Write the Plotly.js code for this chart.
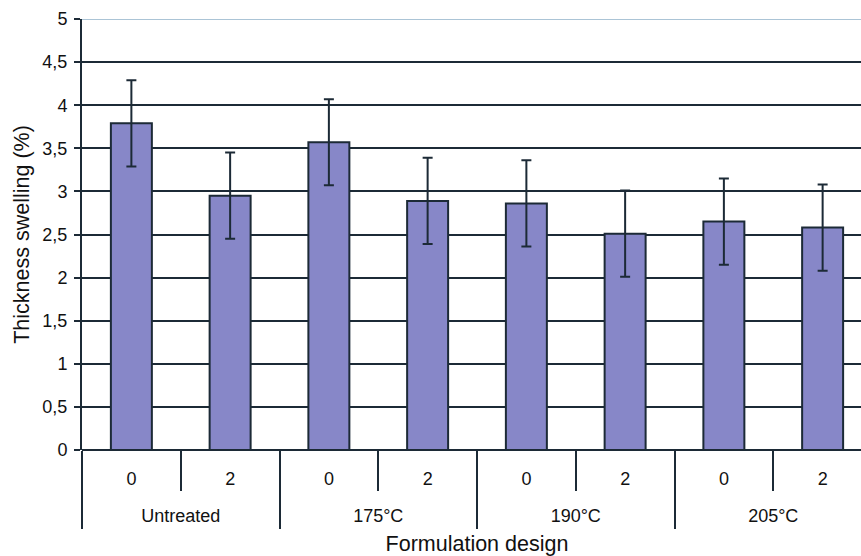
<!DOCTYPE html>
<html>
<head>
<meta charset="utf-8">
<script src="https://cdn.plot.ly/plotly-3.0.1.min.js"></script>
<style>html,body{margin:0;padding:0;background:#fff;overflow:hidden;width:861px;height:556px;}#chart{width:872px;height:556px;}</style>
</head>
<body>
<div id="chart"></div>
<script>
var groups = ["Untreated", "Untreated", "175°C", "175°C", "190°C", "190°C", "205°C", "205°C"];
var design = ["0", "2", "0", "2", "0", "2", "0", "2"];
var swelling = [3.79, 2.95, 3.57, 2.89, 2.86, 2.51, 2.65, 2.58];
var errors = [0.5, 0.5, 0.5, 0.5, 0.5, 0.5, 0.5, 0.5];
var yTicks = [0, 0.5, 1, 1.5, 2, 2.5, 3, 3.5, 4, 4.5, 5];
var yTickText = ["0", "0,5", "1", "1,5", "2", "2,5", "3", "3,5", "4", "4,5", "5"];

// derived positions (from data order)
var idx = swelling.map(function (_, i) { return i; });
var groupNames = [], groupCenters = [];
groups.forEach(function (g, i) {
  var k = groupNames.indexOf(g);
  if (k < 0) { groupNames.push(g); groupCenters.push([i]); }
  else { groupCenters[k].push(i); }
});
groupCenters = groupCenters.map(function (a) { return (a[0] + a[a.length - 1]) / 2; });

var dark = "#1c2a36";
var font = "Liberation Sans, Arial, sans-serif";
var xr = [-0.5, idx.length - 0.5];

var bars = {
  type: "bar",
  x: idx,
  y: swelling,
  width: 0.415,
  marker: {color: "#8787c8", line: {color: dark, width: 2}},
  error_y: {type: "data", array: errors, visible: true, color: dark, thickness: 2, width: 5}
};
// carries the group axis (draws nothing)
var groupAxisCarrier = {
  type: "scatter", mode: "none", x: idx, y: swelling, xaxis: "x2", yaxis: "y", hoverinfo: "skip"
};

var layout = {
  width: 872, height: 556,
  margin: {l: 82, r: 0, t: 19, b: 106},
  paper_bgcolor: "#fff", plot_bgcolor: "#fff",
  showlegend: false,
  font: {family: font, color: "#111"},
  xaxis: {
    type: "linear", range: xr,
    tickvals: idx, ticktext: design,
    ticks: "", showgrid: false, zeroline: false, showline: false,
    minor: {ticks: "outside", tick0: -0.5, dtick: 1, ticklen: 40, tickwidth: 2, tickcolor: dark, showgrid: false},
    tickfont: {size: 18, family: font, color: "#111"},
    ticklabelstandoff: 16
  },
  xaxis2: {
    type: "linear", range: xr, overlaying: "x", anchor: "y", side: "bottom",
    tickvals: groupCenters, ticktext: groupNames,
    ticks: "", showgrid: false, zeroline: false, showline: false,
    minor: {ticks: "outside", tick0: -0.5, dtick: 2, ticklen: 78, tickwidth: 2, tickcolor: dark, showgrid: false},
    tickfont: {size: 18, family: font, color: "#111"},
    ticklabelstandoff: 53,
    title: {text: "Formulation design", font: {size: 21.5, family: font, color: "#111"}, standoff: 10}
  },
  yaxis: {
    range: [0, 5],
    tickvals: yTicks, ticktext: yTickText,
    showgrid: true, gridcolor: dark, gridwidth: 2,
    showline: true, linecolor: dark, linewidth: 2,
    zeroline: true, zerolinecolor: dark, zerolinewidth: 2,
    ticks: "outside", ticklen: 6, tickwidth: 2, tickcolor: dark,
    tickfont: {size: 18, family: font, color: "#111"},
    ticklabelstandoff: 3,
    title: {text: "Thickness swelling (%)", font: {size: 21.5, family: font, color: "#111"}, standoff: 7}
  },
  shapes: [
    {type: "line", xref: "paper", yref: "y", x0: 0, x1: 1, y0: 5, y1: 5, line: {color: "#ffffff", width: 3}, layer: "above"},
    {type: "line", xref: "paper", yref: "y", x0: 0, x1: 1, y0: 5, y1: 5, line: {color: "#8fb0c8", width: 1.5}, layer: "above"}
  ]
};

Plotly.newPlot("chart", [bars, groupAxisCarrier], layout, {displayModeBar: false, staticPlot: true});
</script>
</body>
</html>
